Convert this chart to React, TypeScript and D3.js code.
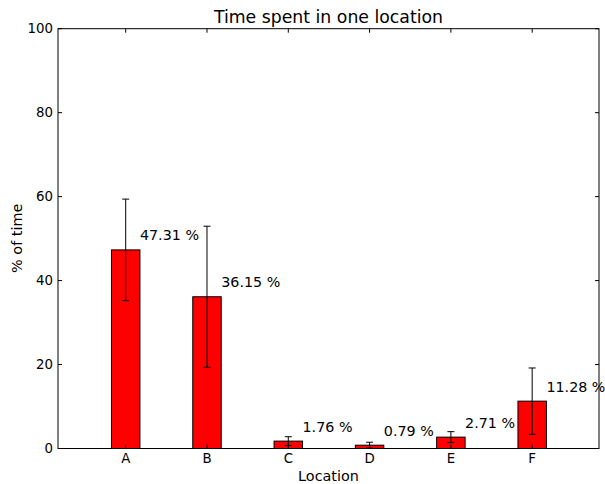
import React from "react";
import * as d3 from "d3";

const categories = ["A", "B", "C", "D", "E", "F"];
const values = [47.31, 36.15, 1.76, 0.79, 2.71, 11.28];
const errors = [12.1, 16.8, 1.05, 0.7, 1.3, 7.9];
const yTicks = [0, 20, 40, 60, 80, 100];

const W = 605, H = 484;
const L = 58, R = 599, T = 28.7, B = 448.5;
const FONT = "DejaVu Sans, sans-serif";

export default function App() {
  const x = d3.scaleLinear().domain([-0.8327, 5.822]).range([L, R]);
  const y = d3.scaleLinear().domain([0, 100]).range([B, T]);
  const bw = x(0.35) - x(0);
  return (
    <svg width={W} height={H} style={{ position: "absolute", left: 0, top: 0 }} fontFamily={FONT}>
      <rect width={W} height={H} fill="#fff" />
      {values.map((v, i) => (
        <rect key={"b" + i} x={x(i) - bw / 2} y={y(v)} width={bw} height={y(0) - y(v)}
          fill="#ff0000" stroke="#000" strokeWidth={1} />
      ))}
      {values.map((v, i) => {
        const cx = x(i);
        return (
          <g key={"e" + i} stroke="#000" strokeWidth={1}>
            <line x1={cx} x2={cx} y1={y(v + errors[i])} y2={y(Math.max(v - errors[i], 0))} />
            <line x1={cx - 3.5} x2={cx + 3.5} y1={y(v + errors[i])} y2={y(v + errors[i])} />
            <line x1={cx - 3.5} x2={cx + 3.5} y1={y(v - errors[i])} y2={y(v - errors[i])} />
          </g>
        );
      })}
      <rect x={L} y={T} width={R - L} height={B - T} fill="none" stroke="#000" strokeWidth={1} />
      {yTicks.map((t) => (
        <g key={"y" + t}>
          <line x1={L} x2={L + 4} y1={y(t)} y2={y(t)} stroke="#000" />
          <line x1={R - 4} x2={R} y1={y(t)} y2={y(t)} stroke="#000" />
          <text x={L - 5} y={y(t)} dy="0.36em" textAnchor="end" fontSize={13.33}>{t}</text>
        </g>
      ))}
      {categories.map((c, i) => (
        <g key={"x" + c}>
          <line x1={x(i)} x2={x(i)} y1={B} y2={B - 4} stroke="#000" />
          <line x1={x(i)} x2={x(i)} y1={T} y2={T + 4} stroke="#000" />
          <text x={x(i)} y={463.3} textAnchor="middle" fontSize={13.33}>{c}</text>
        </g>
      ))}
      {values.map((v, i) => (
        <text key={"l" + i} x={x(i) + bw / 2} y={y(v) - 9.4} fontSize={14.3} fill="#000">
          {v.toFixed(2) + " %"}
        </text>
      ))}
      <text x={(L + R) / 2} y={480.5} textAnchor="middle" fontSize={14.4}>Location</text>
      <text transform={`translate(22,238.3) rotate(-90)`} textAnchor="middle" fontSize={14.4}>% of time</text>
      <text x={(L + R) / 2} y={23} textAnchor="middle" fontSize={17.3}>Time spent in one location</text>
    </svg>
  );
}
